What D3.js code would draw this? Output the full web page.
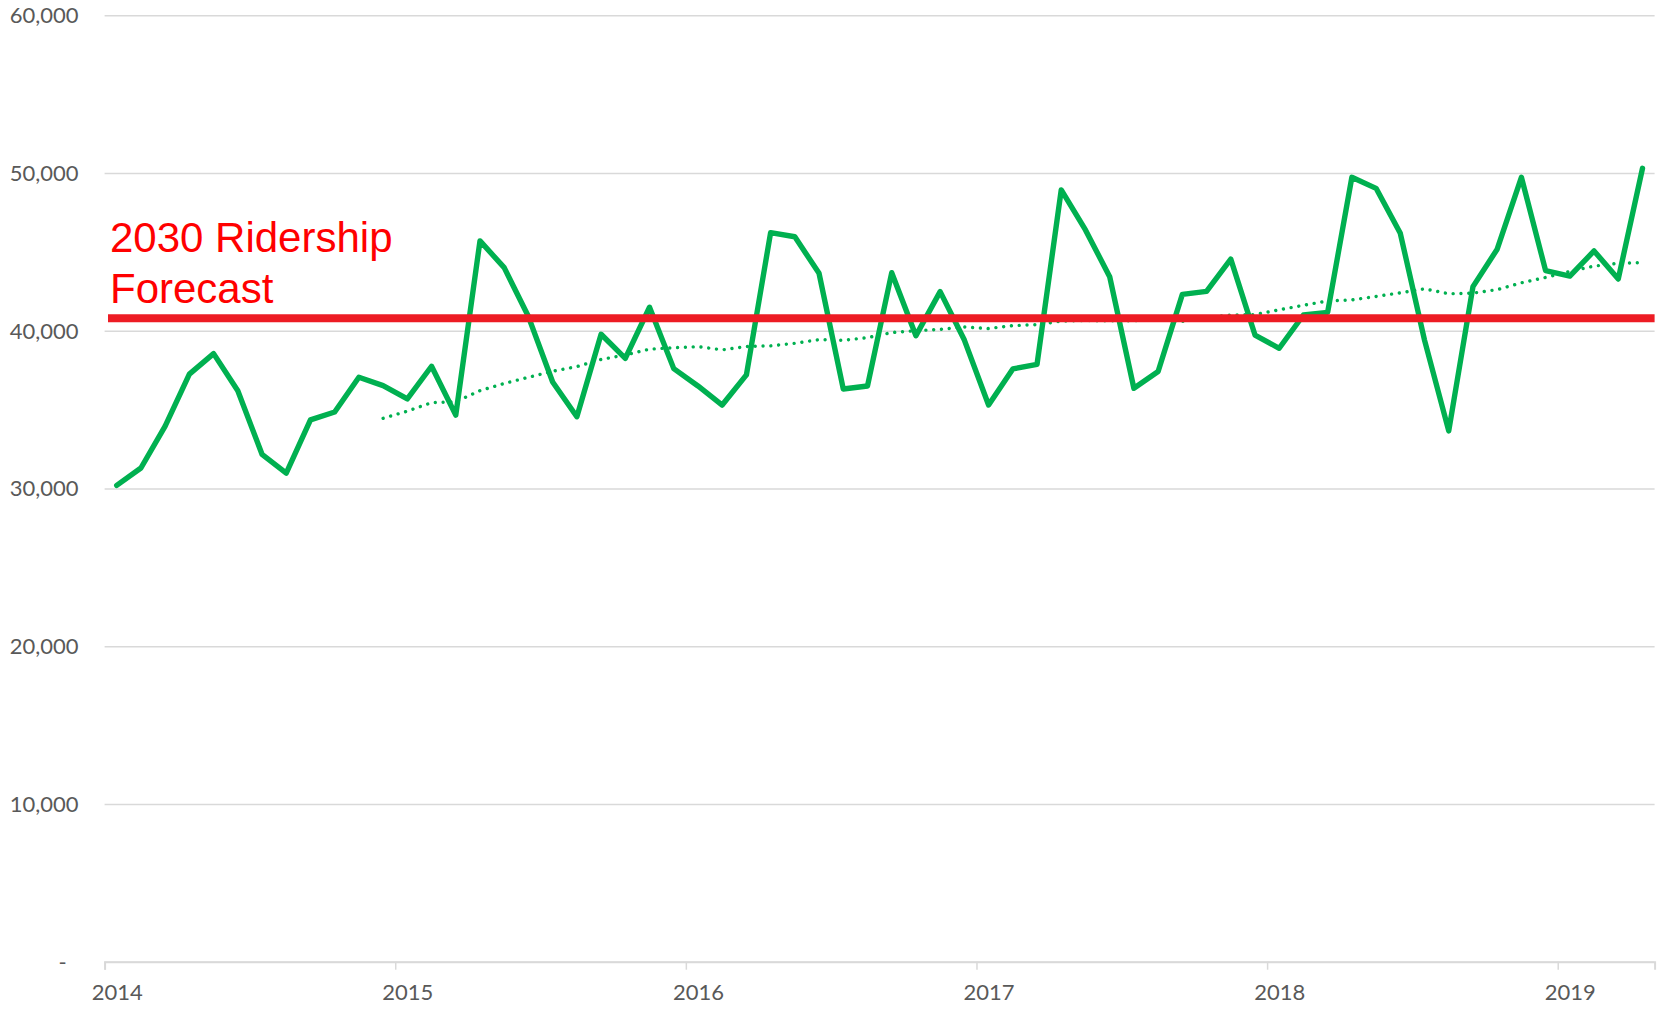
<!DOCTYPE html>
<html>
<head>
<meta charset="utf-8">
<script src="https://cdn.jsdelivr.net/npm/d3@7"></script>
<style>
  body { margin: 0; background: #fff; }
  .tick text { font-family: Lato, "Open Sans", sans-serif; font-size: 22px; fill: #595959; }
</style>
</head>
<body>
<div id="container"></div>
<script>
// monthly ridership, Jan 2014 .. Apr 2019
const ridership = [
  30200, 31300, 33960, 37250, 38550, 36200, 32170, 30980, 34350, 34850, 37050, 36520,
  35680, 37750, 34650, 45700, 44000, 40900, 36750, 34550, 39780, 38250, 41490, 37600,
  36500, 35290, 37200, 46220, 45960, 43640, 36310, 36500, 43680, 39690, 42480, 39410,
  35290, 37580, 37870, 48930, 46390, 43430, 36350, 37420, 42310, 42500, 44540, 39730,
  38890, 41000, 41170, 49730, 49030, 46180, 39410, 33650, 42800, 45170, 49730, 43810,
  43470, 45060, 43280, 50300
];
const years = [2014, 2015, 2016, 2017, 2018, 2019];
const yTicks = [0, 10000, 20000, 30000, 40000, 50000, 60000];
const forecast2030 = 40800;
const forecastLabel = ['2030 Ridership', 'Forecast'];
const maPeriod = 12;

let width = 1661, height = 1011;
let margin = { top: 15.3, right: 6.4, bottom: 49.3, left: 104.6 };

let svg = d3.select('#container').append('svg')
  .attr('width', width)
  .attr('height', height);

// month index scale: one slot per month, points in the middle of the slot
let x = d3.scaleLinear()
  .domain([0, ridership.length])
  .range([margin.left, width - margin.right]);

let y = d3.scaleLinear()
  .domain([0, 60000])
  .range([height - margin.bottom, margin.top]);

// gridlines + y labels
let yAxis = svg.append('g')
  .attr('transform', `translate(${margin.left},0)`)
  .call(d3.axisLeft(y)
    .tickValues(yTicks)
    .tickSize(-(width - margin.left - margin.right))
    .tickPadding(26)
    .tickFormat(function (d) { return d === 0 ? '-' : d3.format(',')(d); }));
yAxis.select('.domain').remove();
yAxis.selectAll('.tick line')
  .attr('stroke', '#d9d9d9')
  .attr('stroke-width', 1.5);
yAxis.selectAll('.tick text')
  .attr('dy', '0.34em')
  .attr('x', function (d) { return d === 0 ? -38 : -26; });

// x axis with year ticks
let xAxis = svg.append('g')
  .attr('transform', `translate(0,${y(0)})`)
  .call(d3.axisBottom(x)
    .tickValues(years.map(function (d, i) { return i * 12; }))
    .tickSize(8)
    .tickPadding(15)
    .tickFormat(function (d, i) { return years[i]; }));
xAxis.select('.domain')
  .attr('stroke', '#d9d9d9')
  .attr('stroke-width', 2);
xAxis.selectAll('.tick line')
  .attr('stroke', '#d9d9d9')
  .attr('stroke-width', 1.5);
xAxis.selectAll('.tick text')
  .attr('x', x(0.5) - x(0));

// 12 month moving average trendline
let movingAvg = [];
ridership.forEach(function (v, i) {
  if (i >= maPeriod - 1) {
    movingAvg.push({ i: i, v: d3.mean(ridership.slice(i - maPeriod + 1, i + 1)) });
  }
});

let line = d3.line()
  .x(function (d) { return x(d.i + 0.5); })
  .y(function (d) { return y(d.v); });

svg.append('path')
  .datum(movingAvg)
  .attr('fill', 'none')
  .attr('stroke', '#00b050')
  .attr('stroke-width', 3.4)
  .attr('stroke-linecap', 'round')
  .attr('stroke-dasharray', '0.01,7.8')
  .attr('d', line);

svg.append('path')
  .datum(ridership.map(function (v, i) { return { i: i, v: v }; }))
  .attr('fill', 'none')
  .attr('stroke', '#00b050')
  .attr('stroke-width', 5.4)
  .attr('stroke-linejoin', 'round')
  .attr('stroke-linecap', 'round')
  .attr('d', line);

// forecast line
svg.append('line')
  .attr('x1', 108)
  .attr('x2', x(ridership.length))
  .attr('y1', y(forecast2030))
  .attr('y2', y(forecast2030))
  .attr('stroke', '#ed1c24')
  .attr('stroke-width', 8);

svg.append('text')
  .attr('x', 110)
  .attr('y', 252)
  .attr('fill', '#ff0000')
  .style('font-family', '"Liberation Sans", Arial, sans-serif')
  .style('font-size', '42px')
  .selectAll('tspan')
  .data(forecastLabel)
  .enter().append('tspan')
  .attr('x', 110)
  .attr('dy', function (d, i) { return i === 0 ? 0 : 50.5; })
  .text(function (d) { return d; });
</script>
</body>
</html>
